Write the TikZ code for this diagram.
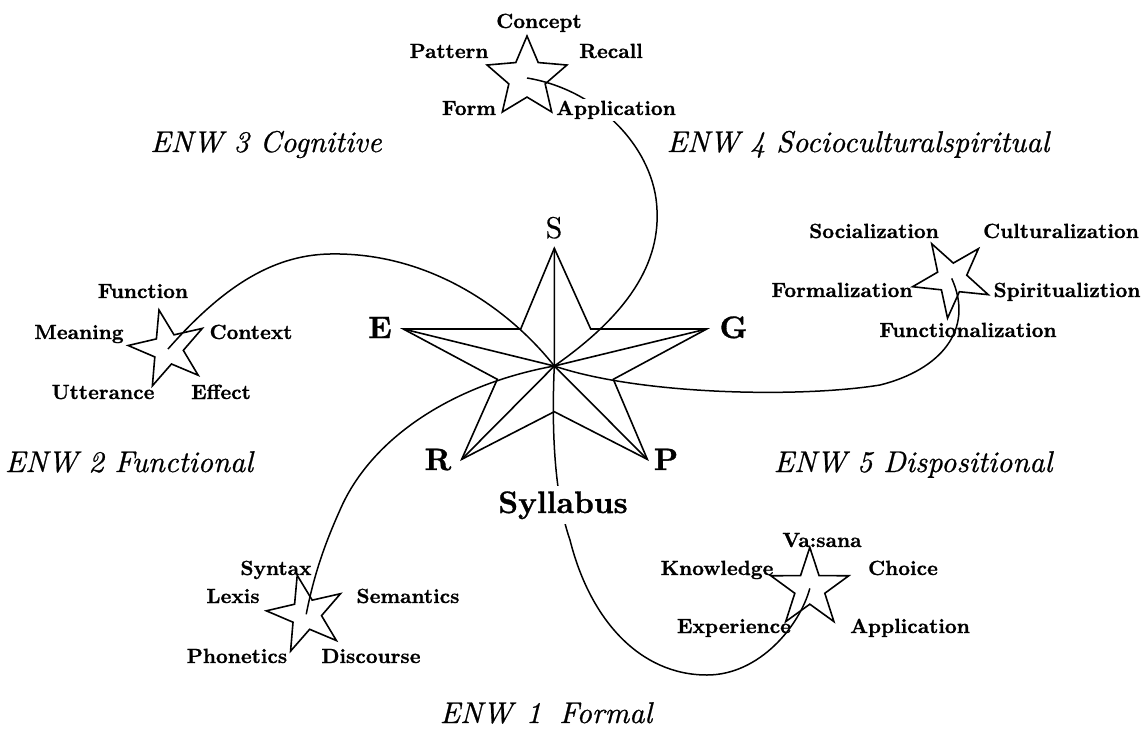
\documentclass[tikz,border=0pt]{standalone}
\usepackage{fontspec}
\newfontfamily\heavyfont[FakeBold=1.0]{lmroman10-bold.otf}
\newfontfamily\titlefont[FakeBold=0.7]{lmroman10-italic.otf}
\newfontfamily\regfont[FakeBold=0.5]{lmroman10-regular.otf}
\usetikzlibrary{shapes.geometric}
\begin{document}
\begin{tikzpicture}[x=1pt,y=-1pt,
  lw/.style={line width=1.6pt},
  conn/.style={line width=1.5pt},
  smallstar/.style={draw, line width=1.6pt, star, star points=5, star point ratio=2.6, inner sep=0pt, minimum size=80pt},
  lbl/.style={font=\heavyfont\fontsize{20.5}{24}\selectfont, anchor=base, inner sep=1pt},
  ttl/.style={font=\titlefont\fontsize{30}{34}\selectfont, anchor=base, inner sep=1pt},
  big/.style={font=\heavyfont\fontsize{31}{36}\selectfont, anchor=base, inner sep=1pt},
  bigreg/.style={font=\regfont\fontsize{30}{35}\selectfont, anchor=base, inner sep=1pt}]
\useasboundingbox (0,0) rectangle (1147,730);

% central star
\coordinate (c) at (554.3,366);
\coordinate (tS) at (554.3,248.3);
\coordinate (tE) at (403.3,329);
\coordinate (tG) at (706.7,329);
\coordinate (tR) at (461.7,459.3);
\coordinate (tP) at (647.3,459.3);
\draw[lw] (tS) -- (590.7,329) -- (tG) -- (613.3,379.3) -- (tP) -- (554.3,411.7) -- (tR) -- (497.3,379.3) -- (tE) -- (520.7,329) -- cycle;
\draw[lw] (c) -- (tS) (c) -- (tE) (c) -- (tG) (c) -- (tR) (c) -- (tP);

% small stars
\node[smallstar, star point ratio=2.2, minimum size=84pt] (st3) at (527,78) {};
\node[smallstar, rotate=13] (st2) at (168,349) {};
\node[smallstar, rotate=30] (st4) at (951.7,278.4) {};
\node[smallstar, rotate=13] (st1) at (306.2,614.3) {};
\node[smallstar, minimum size=82pt] (st5) at (809.8,588.4) {};

% connectors
\draw[conn] (c) .. controls (620,320) and (660,270) .. (657,210) .. controls (655,150) and (600,90) .. (st3.center);
\draw[conn] (st2.center) .. controls (220,290) and (270,255) .. (330,254) .. controls (430,252) and (510,310) .. (c);
\draw[conn] (c) .. controls (640,395) and (800,398) .. (880,385) .. controls (940,370) and (975,330) .. (st4.center);
\draw[conn] (c) .. controls (450,385) and (370,440) .. (340,510) .. controls (322,550) and (313,580) .. (st1.center);
\draw[conn] (c) .. controls (551,440) and (556,500) .. (570,540) .. controls (590,620) and (640,675) .. (707,675) .. controls (760,675) and (800,625) .. (st5.center);

% main labels
\node[bigreg] (lS) at (554,238) {S};
\node[big] (lE) at (380,338) {E};
\node[big] (lG) at (733.5,338) {G};
\node[big] (lR) at (438,470) {R};
\node[big] (lP) at (666,470) {P};
\node[big, fill=white, inner sep=5pt] (lSy) at (563,513) {Syllabus};

% top star labels
\node[lbl] (a1) at (539,28) {Concept};
\node[lbl] (a2) at (449,58) {Pattern};
\node[lbl] (a3) at (611,58) {Recall};
\node[lbl] (a4) at (469,115) {Form};
\node[lbl, fill=white, inner sep=2pt] (a5) at (616,115) {Application};

% left star labels
\node[lbl] (b1) at (143,298) {Function};
\node[lbl] (b2) at (79,339) {Meaning};
\node[lbl] (b3) at (251,339) {Context};
\node[lbl] (b4) at (103,399) {Utterance};
\node[lbl] (b5) at (221,399) {Effect};

% right star labels
\node[lbl] (d1) at (874,238) {Socialization};
\node[lbl] (d2) at (1061,238) {Culturalization};
\node[lbl] (d3) at (842,297) {Formalization};
\node[lbl] (d4) at (1067,297) {Spiritualiztion};
\node[lbl] (d5) at (968,337) {Functionalization};

% bottom-left labels
\node[lbl] (e1) at (276,575) {Syntax};
\node[lbl] (e2) at (233,603) {Lexis};
\node[lbl] (e3) at (408,603) {Semantics};
\node[lbl] (e4) at (237,663) {Phonetics};
\node[lbl] (e5) at (371,663) {Discourse};

% bottom-right labels
\node[lbl] (f0) at (822,547) {Va:sana};
\node[lbl] (f1) at (717,575) {Knowledge};
\node[lbl] (f2) at (903,575) {Choice};
\node[lbl] (f3) at (734,633) {Experience};
\node[lbl] (f4) at (910,633) {Application};

% titles
\node[ttl] (t3) at (266,152) {ENW 3 Cognitive};
\node[ttl] (t4) at (858,152) {ENW 4 Socioculturalspiritual};
\node[ttl] (t2) at (129,472) {ENW 2 Functional};
\node[ttl] (t5) at (913,472) {ENW 5 Dispositional};
\node[ttl] (t1) at (546,723) {ENW\hspace{0.45em}1\hspace{0.6em}Formal};
\end{tikzpicture}
\end{document}
